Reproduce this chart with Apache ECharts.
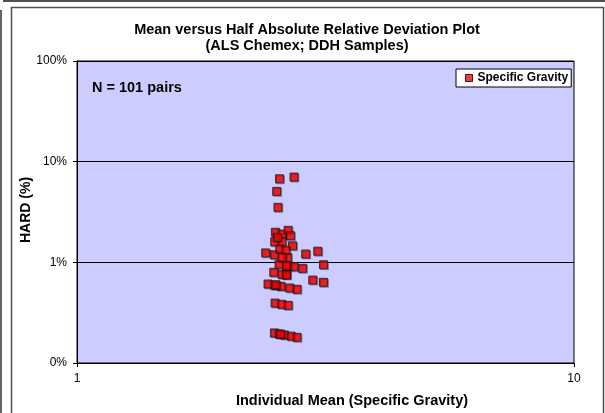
<!DOCTYPE html>
<html>
<head>
<meta charset="utf-8">
<script src="https://cdn.jsdelivr.net/npm/echarts@6/dist/echarts.min.js"></script>
<style>
html,body{margin:0;padding:0;background:#fff;}
#chart{width:605px;height:413px;}
</style>
</head>
<body>
<div id="chart"></div>
<script>
// Individual mean (specific gravity) of each pair
const meanSG = [2.555, 2.733, 2.522, 2.537, 2.507, 2.585, 2.659, 2.688, 2.499, 2.585,
  2.714, 2.397, 2.496, 2.558, 2.630, 2.651, 2.885, 3.051, 3.133, 2.550,
  2.659, 2.729, 2.842, 2.488, 2.585, 2.638, 2.981, 3.133, 2.423, 2.499,
  2.573, 2.679, 2.771, 2.503, 2.582, 2.659, 2.496, 2.550, 2.614, 2.696,
  2.771, 2.530, 2.585, 2.638, 2.512, 2.638, 2.566];
// Half absolute relative deviation (%)
const hardPct = [6.76, 7.03, 5.07, 3.52, 1.99, 1.91, 2.08, 1.84, 1.60, 1.60,
  1.46, 1.24, 1.19, 1.36, 1.32, 1.12, 1.21, 1.29, 0.947, 0.955,
  0.925, 0.904, 0.872, 0.796, 0.760, 0.760, 0.667, 0.633, 0.609, 0.591,
  0.578, 0.556, 0.540, 0.394, 0.383, 0.374, 0.199, 0.194, 0.190, 0.185,
  0.180, 1.77, 1.12, 0.748, 0.599, 0.925, 0.194];
const xTicks = [1, 10];
const yTicks = [0.1, 1, 10, 100];
const yTickLabels = ['0%', '1%', '10%', '100%'];
const seriesName = 'Specific Gravity';
const titleLines = ['Mean versus Half Absolute Relative Deviation Plot', '(ALS Chemex; DDH Samples)'];
const xTitle = 'Individual Mean (Specific Gravity)';
const yTitle = 'HARD (%)';
const nLabel = 'N = 101 pairs';

const points = meanSG.map((m, i) => [m, hardPct[i]]);
const FONT = 'Liberation Sans, Arial, sans-serif';

const chart = echarts.init(document.getElementById('chart'), null, {renderer: 'canvas'});
chart.setOption({
  animation: false,
  backgroundColor: '#fff',
  textStyle: {fontFamily: FONT, color: '#000'},
  title: {
    text: titleLines.join('\n'),
    left: 307, top: 22, textAlign: 'center', padding: 0,
    textStyle: {fontFamily: FONT, fontSize: 14.5, fontWeight: 'bold', color: '#000', lineHeight: 16}
  },
  legend: {
    data: [seriesName],
    left: 456, top: 69,
    padding: [2, 3, 2, 9],
    itemWidth: 7, itemHeight: 7,
    icon: 'rect',
    backgroundColor: '#fff', borderColor: '#000', borderWidth: 1, borderRadius: 0,
    textStyle: {fontFamily: FONT, fontSize: 12, fontWeight: 'bold', color: '#000', lineHeight: 14},
    itemStyle: {color: '#FF0000', borderColor: '#000', borderWidth: 1}
  },
  grid: {
    left: 77, top: 61, right: 31, bottom: 50,
    show: true, backgroundColor: '#CCCCFF', borderColor: '#000', borderWidth: 1
  },
  xAxis: {
    type: 'log', logBase: 10, min: xTicks[0], max: xTicks[xTicks.length - 1],
    axisLine: {show: true, lineStyle: {color: '#000', width: 1}},
    axisTick: {show: true, inside: false, length: 4, lineStyle: {color: '#000'}},
    axisLabel: {show: true, margin: 10, fontSize: 12, color: '#000', fontFamily: FONT,
      formatter: v => String(Math.round(v))},
    splitLine: {show: false},
    minorTick: {show: false}
  },
  yAxis: {
    type: 'log', logBase: 10, min: yTicks[0], max: yTicks[yTicks.length - 1],
    axisLine: {show: true, lineStyle: {color: '#000', width: 1}},
    axisTick: {show: true, inside: false, length: 4, lineStyle: {color: '#000'}},
    axisLabel: {show: true, margin: 10, fontSize: 12, color: '#000', fontFamily: FONT,
      formatter: v => {
        let best = 0, d = Infinity;
        yTicks.forEach((t, i) => { const dd = Math.abs(Math.log10(t) - Math.log10(v)); if (dd < d) { d = dd; best = i; } });
        return yTickLabels[best];
      }},
    splitLine: {show: true, lineStyle: {color: '#000', width: 1}},
    minorTick: {show: false}
  },
  series: [{
    name: seriesName,
    type: 'scatter',
    symbol: 'rect',
    symbolSize: 8,
    data: points,
    itemStyle: {color: '#FF0000', borderColor: '#1a1a1a', borderWidth: 1,
      shadowColor: 'rgba(0,0,0,0.35)', shadowBlur: 0, shadowOffsetX: 1, shadowOffsetY: 1},
    emphasis: {disabled: true}
  }],
  graphic: [
    {type: 'rect', silent: true, z: -1, shape: {x: 11.5, y: 7.5, width: 592, height: 420},
      style: {fill: 'none', stroke: '#505050', lineWidth: 1.5}},
    {type: 'line', silent: true, shape: {x1: 3, y1: 1, x2: 605, y2: 1},
      style: {stroke: '#505050', lineWidth: 2}},
    {type: 'line', silent: true, shape: {x1: 1, y1: 10, x2: 1, y2: 413},
      style: {stroke: '#303030', lineWidth: 1.5}},
    {type: 'text', silent: true, style: {x: 92, y: 88, text: nLabel, fontFamily: FONT, fontSize: 14.5,
      fontWeight: 'bold', fill: '#000', verticalAlign: 'middle', align: 'left'}},
    {type: 'text', silent: true, style: {x: 352, y: 401, text: xTitle, fontFamily: FONT, fontSize: 14.5,
      fontWeight: 'bold', fill: '#000', verticalAlign: 'middle', align: 'center'}},
    {type: 'text', silent: true, x: 26, y: 210, rotation: Math.PI / 2,
      style: {x: 0, y: 0, text: yTitle, fontFamily: FONT, fontSize: 14,
      fontWeight: 'bold', fill: '#000', verticalAlign: 'middle', align: 'center'}}
  ]
});
</script>
</body>
</html>
